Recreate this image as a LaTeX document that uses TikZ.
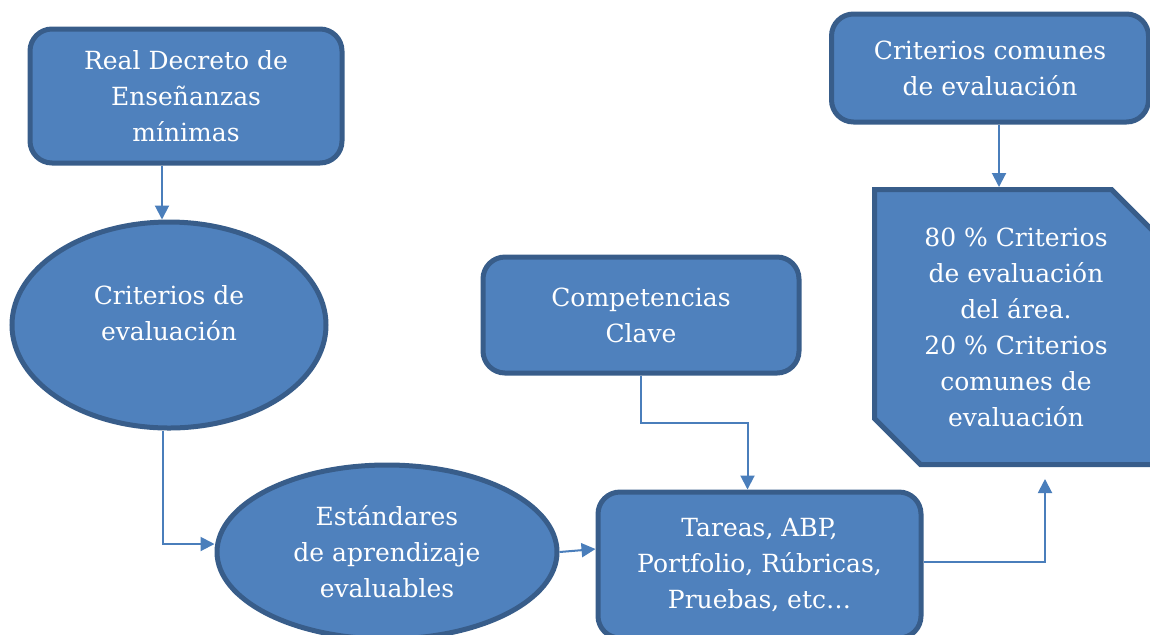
\documentclass[tikz,border=0pt]{standalone}
\usepackage{fontspec}
\setmainfont{DejaVu Serif}
\usetikzlibrary{arrows.meta,shapes.geometric,shapes.misc}
\definecolor{boxfill}{HTML}{4F81BD}
\definecolor{boxline}{HTML}{385D8A}
\definecolor{flowline}{HTML}{4A7EBB}
\begin{document}
\begin{tikzpicture}[x=0.5pt, y=-0.5pt,
    block/.style={draw=boxline, fill=boxfill, line width=2.5pt, text=white, align=center,
        font=\fontsize{12.5}{18}\selectfont, inner sep=0pt},
    roundbox/.style={block, rectangle, rounded corners=11pt},
    oval/.style={block, ellipse},
    snipbox/.style={block, chamfered rectangle, chamfered rectangle corners={north east, south west},
        chamfered rectangle xsep=11.5pt, chamfered rectangle ysep=11.5pt},
    flow/.style={draw=flowline, line width=1pt, -{Triangle[length=7pt, width=7pt]}}]
    \useasboundingbox (0,0) rectangle (1150,634);
    \clip (0,0) rectangle (1150,634);
    % shapes
    \node[roundbox, minimum width=156pt, minimum height=67pt] (decreto) at (186,96)
        {Real Decreto de\\Enseñanzas\\mínimas};
    \node[oval, minimum width=157pt, minimum height=103pt] (crit) at (169,325)
        {Criterios de\\evaluación\\[-6pt]\mbox{}};
    \node[oval, minimum width=170pt, minimum height=87pt] (estand) at (387,552)
        {Estándares\\de aprendizaje\\evaluables};
    \node[roundbox, minimum width=158pt, minimum height=58pt] (comp) at (641,315)
        {Competencias\\Clave};
    \node[roundbox, minimum width=161.5pt, minimum height=73pt] (tareas) at (759.5,565)
        {Tareas, ABP,\\Portfolio, Rúbricas,\\Pruebas, etc…};
    \node[roundbox, minimum width=158.5pt, minimum height=54pt] (comunes) at (990,68)
        {Criterios comunes\\de evaluación};
    \node[snipbox, minimum width=141.5pt, minimum height=137.5pt] (areas) at (1016,327)
        {80 \% Criterios\\de evaluación\\del área.\\20 \% Criterios\\comunes de\\evaluación};
    % connectors
    \draw[flow] ([xshift=-12pt]decreto.south) -- ([xshift=-3.5pt]crit.north);
    \draw[flow] ([xshift=-3pt]crit.south) |- ([yshift=4pt]estand.west);
    \draw[flow] (estand.east) -- ([yshift=8pt]tareas.west);
    \draw[flow] (comp.south) -- ++(0,47) -| ([xshift=-6pt]tareas.north);
    \draw[flow] ([yshift=1.5pt]tareas.east) -| ([shift={(14.5pt,-6pt)}]areas.south);
    \draw[flow] ([xshift=4.5pt]comunes.south) -- ([xshift=-8.5pt]areas.north);
\end{tikzpicture}
\end{document}
